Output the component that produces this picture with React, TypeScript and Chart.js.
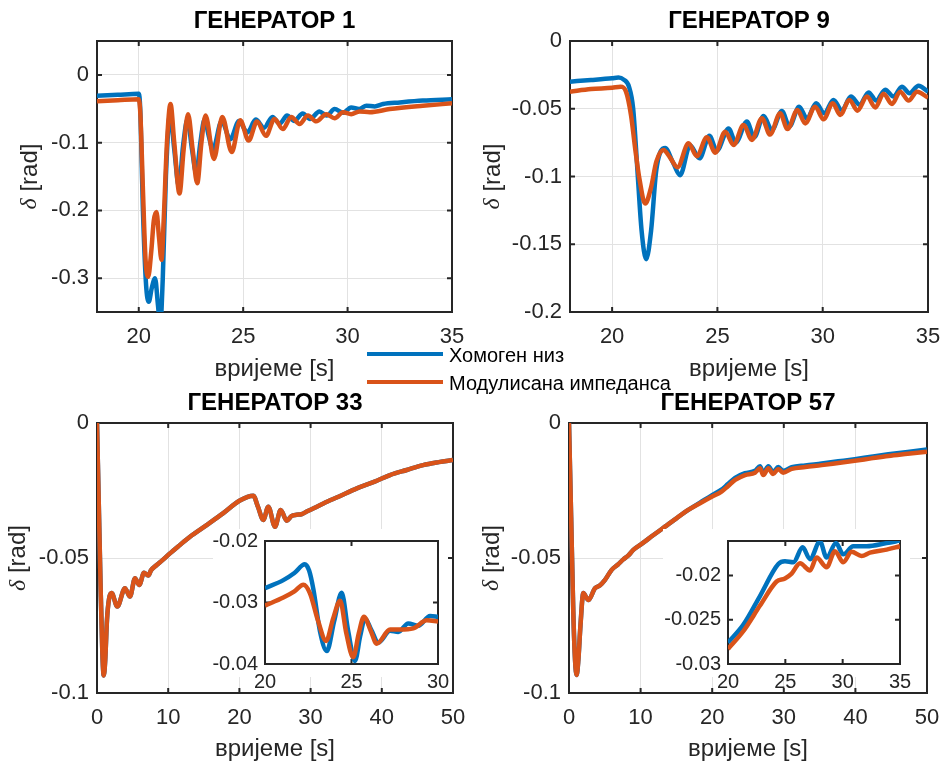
import React, { useEffect, useRef } from "react";
import { Chart, registerables } from "chart.js";

Chart.register(...registerables);

const BLUE = "#0072BD";
const ORANGE = "#D95319";
const FONT = "'Liberation Sans', Arial, Helvetica, sans-serif";
const SERIES_NAMES = ["Хомоген низ", "Модулисана импеданса"];
const X_LABEL = "вријеме [s]";

// ---------- ГЕНЕРАТОР 1 ----------
const g1HomT = [18, 19, 20, 20.07, 20.2, 20.35, 20.48, 20.62, 20.78, 20.92, 21.03, 21.15, 21.3, 21.5, 21.7, 21.92, 22.12, 22.33, 22.55, 22.75, 22.95, 23.15, 23.35, 23.55, 23.97, 24.38, 24.8, 25.2, 25.6, 26.0, 26.4, 26.75, 27.1, 27.45, 27.85, 28.2, 28.65, 29.0, 29.38, 29.78, 30.17, 30.55, 30.9, 31.3, 31.7, 32.5, 33.6, 35];
const g1HomV = [-0.031, -0.0295, -0.028, -0.05, -0.2, -0.31, -0.335, -0.315, -0.3, -0.34, -0.37, -0.3, -0.15, -0.058, -0.11, -0.165, -0.105, -0.066, -0.11, -0.145, -0.1, -0.066, -0.09, -0.11, -0.068, -0.095, -0.068, -0.085, -0.066, -0.078, -0.062, -0.072, -0.06, -0.068, -0.057, -0.065, -0.054, -0.06, -0.0505, -0.056, -0.048, -0.0505, -0.0456, -0.0465, -0.043, -0.0407, -0.038, -0.036];
const g1ModT = [18, 19, 20, 20.08, 20.2, 20.32, 20.45, 20.6, 20.72, 20.85, 20.97, 21.09, 21.2, 21.35, 21.52, 21.7, 21.95, 22.15, 22.36, 22.58, 22.8, 23.0, 23.2, 23.6, 24.0, 24.45, 24.86, 25.26, 25.66, 26.09, 26.5, 26.9, 27.3, 27.7, 28.1, 28.5, 28.98, 29.38, 29.78, 30.17, 30.58, 31.06, 32.02, 33.6, 35];
const g1ModV = [-0.039, -0.0375, -0.036, -0.06, -0.17, -0.27, -0.298, -0.26, -0.215, -0.2025, -0.24, -0.273, -0.21, -0.1, -0.043, -0.1, -0.175, -0.11, -0.058, -0.11, -0.16, -0.1, -0.06, -0.124, -0.062, -0.114, -0.067, -0.097, -0.069, -0.09, -0.065, -0.08, -0.062, -0.0725, -0.06, -0.0686, -0.058, -0.064, -0.055, -0.058, -0.054, -0.055, -0.0505, -0.0456, -0.042];
const g1XTicks = [20, 25, 30, 35];
const g1XLabels = ["20", "25", "30", "35"];
const g1YTicks = [-0.3, -0.2, -0.1, 0];
const g1YLabels = ["-0.3", "-0.2", "-0.1", "0"];

// ---------- ГЕНЕРАТОР 9 ----------
const g9HomT = [18, 19, 20, 20.3, 20.55, 20.8, 21.0, 21.2, 21.4, 21.62, 21.85, 22.1, 22.52, 22.9, 23.23, 23.7, 24.15, 24.62, 24.97, 25.53, 25.87, 26.4, 26.75, 27.19, 27.59, 28.06, 28.42, 28.88, 29.25, 29.69, 30.07, 30.51, 30.91, 31.34, 31.75, 32.18, 32.54, 32.97, 33.36, 33.76, 34.12, 34.55, 35];
const g9HomV = [-0.03, -0.0288, -0.0275, -0.027, -0.0285, -0.0337, -0.05, -0.095, -0.14, -0.161, -0.14, -0.095, -0.079, -0.09, -0.099, -0.077, -0.0866, -0.07, -0.081, -0.0645, -0.075, -0.0595, -0.071, -0.0553, -0.0657, -0.0517, -0.063, -0.0485, -0.057, -0.046, -0.0534, -0.0435, -0.051, -0.041, -0.047, -0.038, -0.044, -0.036, -0.041, -0.0337, -0.0386, -0.033, -0.0374];
const g9ModT = [18, 19, 20, 20.4, 20.65, 20.9, 21.1, 21.3, 21.57, 21.85, 22.1, 22.44, 22.75, 23.1, 23.63, 24.02, 24.5, 24.9, 25.37, 25.77, 26.24, 26.64, 27.11, 27.5, 27.98, 28.33, 28.8, 29.17, 29.64, 30.04, 30.48, 30.83, 31.27, 31.65, 32.1, 32.5, 32.89, 33.29, 33.68, 34.08, 34.48, 35];
const g9ModV = [-0.0374, -0.0355, -0.0345, -0.0337, -0.037, -0.055, -0.08, -0.102, -0.12, -0.108, -0.089, -0.0804, -0.086, -0.0932, -0.0755, -0.085, -0.071, -0.0824, -0.0669, -0.0768, -0.062, -0.073, -0.057, -0.069, -0.0534, -0.065, -0.051, -0.0608, -0.0485, -0.0578, -0.046, -0.0546, -0.0435, -0.0514, -0.041, -0.049, -0.039, -0.0465, -0.0374, -0.044, -0.0374, -0.0418];
const g9XTicks = [20, 25, 30, 35];
const g9XLabels = ["20", "25", "30", "35"];
const g9YTicks = [-0.2, -0.15, -0.1, -0.05, 0];
const g9YLabels = ["-0.2", "-0.15", "-0.1", "-0.05", "0"];

// ---------- ГЕНЕРАТОР 33 ----------
const g33T = [0, 0.25, 0.5, 0.75, 0.95, 1.15, 1.4, 1.7, 2.06, 2.85, 3.93, 4.63, 5.34, 5.94, 6.6, 7.2, 7.6, 8.38, 9.2, 10.25, 11.5, 13.06, 15.4, 17.74, 20.0, 21.95, 22.6, 23.36, 24.06, 25.0, 25.8, 26.64, 27.3, 28.04, 28.7, 29.45, 30.5, 31.8, 34.0, 36.5, 39.0, 41.15, 43.5, 45.8, 48.0, 50];
const g33HomV = [0, -0.03, -0.06, -0.085, -0.0935, -0.088, -0.073, -0.065, -0.063, -0.068, -0.0612, -0.0643, -0.0575, -0.06, -0.0555, -0.0565, -0.0545, -0.0526, -0.0508, -0.0483, -0.0455, -0.0421, -0.0378, -0.0334, -0.0288, -0.0269, -0.031, -0.0359, -0.031, -0.0384, -0.0322, -0.0362, -0.0345, -0.034, -0.0338, -0.0328, -0.0315, -0.0298, -0.0272, -0.0242, -0.0217, -0.0193, -0.0174, -0.0156, -0.0145, -0.0137];
const g33ModV = [0, -0.03, -0.06, -0.085, -0.0935, -0.088, -0.073, -0.065, -0.063, -0.068, -0.0612, -0.0643, -0.0575, -0.06, -0.0555, -0.0565, -0.0545, -0.0526, -0.0508, -0.0483, -0.0455, -0.0421, -0.0378, -0.0334, -0.0288, -0.0269, -0.031, -0.0359, -0.031, -0.0384, -0.0322, -0.0362, -0.0345, -0.034, -0.0338, -0.0328, -0.0315, -0.0298, -0.0272, -0.0242, -0.0217, -0.0193, -0.0174, -0.0156, -0.0145, -0.0137];
const g33InHomT = [20, 21.06, 21.7, 22.3, 22.55, 22.8, 23.18, 23.57, 24.0, 24.43, 24.8, 25.2, 25.5, 25.78, 26.15, 26.55, 27.23, 27.7, 28.28, 28.86, 29.54, 30];
const g33InHomV = [-0.02766, -0.02636, -0.0252, -0.0238, -0.0248, -0.0279, -0.0347, -0.0379, -0.033, -0.0284, -0.0345, -0.0395, -0.0355, -0.0326, -0.0345, -0.0365, -0.0346, -0.0348, -0.0334, -0.0338, -0.0322, -0.0323];
const g33InModT = [20, 21.06, 21.7, 22.22, 22.6, 23.08, 23.53, 23.95, 24.34, 24.7, 25.1, 25.42, 25.72, 26.1, 26.46, 27.23, 27.8, 28.57, 29.35, 30];
const g33InModV = [-0.0305, -0.0292, -0.0282, -0.0271, -0.0285, -0.0331, -0.03625, -0.0325, -0.0297, -0.035, -0.0389, -0.035, -0.0323, -0.0345, -0.0367, -0.0344, -0.0344, -0.0342, -0.0329, -0.0331];
const g33InXTicks = [20, 25, 30];
const g33InXLabels = ["20", "25", "30"];
const g33InYTicks = [-0.04, -0.03, -0.02];
const g33InYLabels = ["-0.04", "-0.03", "-0.02"];

// ---------- ГЕНЕРАТОР 57 ----------
const g57T = [0, 0.3, 0.6, 0.85, 1.07, 1.3, 1.6, 2.0, 2.7, 3.63, 4.3, 5.03, 5.96, 6.8, 7.59, 8.3, 8.98, 10.24, 11.8, 13.4, 15.0, 16.66, 18.3, 19.93, 21.3, 22.2, 23.2, 24.58, 25.98, 26.68, 27.14, 27.84, 28.5, 29.23, 29.9, 31.1, 33.0, 35.3, 37.6, 39.9, 42.2, 44.6, 47.3, 50];
const g57HomV = [0, -0.035, -0.07, -0.088, -0.0933, -0.088, -0.075, -0.063, -0.0656, -0.0612, -0.0602, -0.0581, -0.0544, -0.0525, -0.0505, -0.049, -0.047, -0.0446, -0.0415, -0.0384, -0.0353, -0.0322, -0.0295, -0.0268, -0.0247, -0.0226, -0.0203, -0.0186, -0.0177, -0.016, -0.0185, -0.016, -0.0181, -0.0163, -0.0177, -0.0164, -0.0157, -0.015, -0.0142, -0.0134, -0.0125, -0.0116, -0.0107, -0.0098];
const g57ModV = [0, -0.035, -0.07, -0.088, -0.0933, -0.088, -0.075, -0.063, -0.0656, -0.0612, -0.0602, -0.0581, -0.0544, -0.0525, -0.0505, -0.049, -0.047, -0.0446, -0.0415, -0.0384, -0.0353, -0.0322, -0.0297, -0.0273, -0.0254, -0.0234, -0.0211, -0.0193, -0.0184, -0.0168, -0.0193, -0.0168, -0.0189, -0.017, -0.0184, -0.017, -0.0163, -0.0156, -0.0148, -0.014, -0.0131, -0.0122, -0.0114, -0.0106];
const g57InHomT = [20, 21.33, 22.79, 24.39, 24.97, 25.7, 26.51, 27.15, 28.02, 28.6, 29.42, 30.05, 30.92, 32.09, 33.83, 35];
const g57InHomV = [-0.02758, -0.02558, -0.02232, -0.0187, -0.0184, -0.01851, -0.01682, -0.01815, -0.01616, -0.01797, -0.01634, -0.01761, -0.0167, -0.0167, -0.01634, -0.01605];
const g57InModT = [20, 21.33, 22.79, 24.24, 24.97, 25.55, 26.28, 27.15, 27.73, 28.6, 29.33, 30.05, 30.78, 31.65, 32.38, 33.83, 35];
const g57InModV = [-0.0283, -0.0263, -0.0234, -0.02068, -0.02033, -0.01978, -0.01862, -0.01942, -0.01797, -0.01906, -0.01725, -0.01851, -0.01732, -0.0178, -0.01742, -0.01707, -0.0167];
const g57InXTicks = [20, 25, 30, 35];
const g57InXLabels = ["20", "25", "30", "35"];
const g57InYTicks = [-0.03, -0.025, -0.02];
const g57InYLabels = ["-0.03", "-0.025", "-0.02"];

const longXTicks = [0, 10, 20, 30, 40, 50];
const longXLabels = ["0", "10", "20", "30", "40", "50"];
const longYTicks = [-0.1, -0.05, 0];
const longYLabels = ["-0.1", "-0.05", "0"];

type Rect = { x: number; y: number; w: number; h: number };
type Panel = {
  canvas: Rect;
  plot: { l: number; t: number; r: number; b: number };
  title?: string;
  titleY?: number;
  xLabelY?: number;
  yLabelX?: number;
  white?: Rect;
  grid: boolean;
  tickSize: number;
  tickPadX: number;
  tickPadY: number;
  xMin: number; xMax: number; xTicks: number[]; xLabels: string[];
  yMin: number; yMax: number; yTicks: number[]; yLabels: string[];
  series: { t: number[]; v: number[]; color: string }[];
};

const PANELS: Panel[] = [
  {
    canvas: { x: 0, y: 0, w: 478, h: 400 }, plot: { l: 97, t: 41, r: 452, b: 312 },
    title: "ГЕНЕРАТОР 1", titleY: 21.5, xLabelY: 369, yLabelX: 30, grid: true,
    tickSize: 22, tickPadX: 12, tickPadY: 8,
    xMin: 18, xMax: 35, xTicks: g1XTicks, xLabels: g1XLabels,
    yMin: -0.35, yMax: 0.05, yTicks: g1YTicks, yLabels: g1YLabels,
    series: [{ t: g1HomT, v: g1HomV, color: BLUE }, { t: g1ModT, v: g1ModV, color: ORANGE }],
  },
  {
    canvas: { x: 472, y: 0, w: 482, h: 400 }, plot: { l: 570, t: 41, r: 928, b: 312 },
    title: "ГЕНЕРАТОР 9", titleY: 21.5, xLabelY: 369, yLabelX: 493, grid: true,
    tickSize: 22, tickPadX: 12, tickPadY: 8,
    xMin: 18, xMax: 35, xTicks: g9XTicks, xLabels: g9XLabels,
    yMin: -0.2, yMax: 0, yTicks: g9YTicks, yLabels: g9YLabels,
    series: [{ t: g9HomT, v: g9HomV, color: BLUE }, { t: g9ModT, v: g9ModV, color: ORANGE }],
  },
  {
    canvas: { x: 0, y: 380, w: 480, h: 384 }, plot: { l: 97, t: 423, r: 453, b: 693 },
    title: "ГЕНЕРАТОР 33", titleY: 403, xLabelY: 749.6, yLabelX: 18.5, grid: true,
    tickSize: 22, tickPadX: 12, tickPadY: 8,
    xMin: 0, xMax: 50, xTicks: longXTicks, xLabels: longXLabels,
    yMin: -0.1, yMax: 0, yTicks: longYTicks, yLabels: longYLabels,
    series: [{ t: g33T, v: g33HomV, color: BLUE }, { t: g33T, v: g33ModV, color: ORANGE }],
  },
  {
    canvas: { x: 472, y: 380, w: 482, h: 384 }, plot: { l: 569, t: 423, r: 927, b: 693 },
    title: "ГЕНЕРАТОР 57", titleY: 403, xLabelY: 749.6, yLabelX: 492, grid: true,
    tickSize: 22, tickPadX: 12, tickPadY: 8,
    xMin: 0, xMax: 50, xTicks: longXTicks, xLabels: longXLabels,
    yMin: -0.1, yMax: 0, yTicks: longYTicks, yLabels: longYLabels,
    series: [{ t: g57T, v: g57HomV, color: BLUE }, { t: g57T, v: g57ModV, color: ORANGE }],
  },
  {
    canvas: { x: 205, y: 522, w: 255, h: 175 }, plot: { l: 265, t: 536, r: 438, b: 664 },
    white: { x: 213, y: 529, w: 235, h: 148 }, grid: false,
    tickSize: 20, tickPadX: 6, tickPadY: 7,
    xMin: 20, xMax: 30, xTicks: g33InXTicks, xLabels: g33InXLabels,
    yMin: -0.04, yMax: -0.02, yTicks: g33InYTicks, yLabels: g33InYLabels,
    series: [{ t: g33InHomT, v: g33InHomV, color: BLUE }, { t: g33InModT, v: g33InModV, color: ORANGE }],
  },
  {
    canvas: { x: 655, y: 522, w: 270, h: 175 }, plot: { l: 728, t: 536, r: 900, b: 664 },
    white: { x: 663, y: 529, w: 247, h: 148 }, grid: false,
    tickSize: 20, tickPadX: 6, tickPadY: 7,
    xMin: 20, xMax: 35, xTicks: g57InXTicks, xLabels: g57InXLabels,
    yMin: -0.03, yMax: -0.0161, yTicks: g57InYTicks, yLabels: g57InYLabels,
    series: [{ t: g57InHomT, v: g57InHomV, color: BLUE }, { t: g57InModT, v: g57InModV, color: ORANGE }],
  },
];

function buildChart(canvas: HTMLCanvasElement, p: Panel): Chart {
  const c = p.canvas;
  const yWidth = p.plot.l - c.x;
  const padR = c.x + c.w - p.plot.r;
  let padTop = 0;
  let titlePad = { top: 0, bottom: 0 };
  if (p.title) {
    const pt = (p.titleY as number) - c.y - 14.4;
    titlePad = { top: pt, bottom: p.plot.t - c.y - pt - 28.8 };
  } else {
    padTop = p.plot.t - c.y;
  }
  const xHeight = p.xLabelY !== undefined ? p.xLabelY + 14.4 - p.plot.b : c.y + c.h - p.plot.b;
  const padB = c.y + c.h - p.plot.b - xHeight;

  const whitePlugin = {
    id: "whiteBox",
    beforeDraw(chart: any) {
      if (!p.white) return;
      const ctx = chart.ctx;
      ctx.save();
      ctx.fillStyle = "#ffffff";
      ctx.fillRect(p.white.x - c.x, p.white.y - c.y, p.white.w, p.white.h);
      ctx.restore();
    },
  };

  const framePlugin = {
    id: "frameBox",
    beforeDatasetsDraw(chart: any) {
      const { ctx, chartArea: a, scales } = chart;
      const len = 5;
      ctx.save();
      ctx.strokeStyle = "#262626";
      ctx.lineWidth = 2;
      ctx.strokeRect(a.left, a.top, a.right - a.left, a.bottom - a.top);
      ctx.beginPath();
      for (const tk of scales.x.ticks) {
        const px = scales.x.getPixelForValue(tk.value);
        ctx.moveTo(px, a.bottom);
        ctx.lineTo(px, a.bottom - len);
        ctx.moveTo(px, a.top);
        ctx.lineTo(px, a.top + len);
      }
      for (const tk of scales.y.ticks) {
        const py = scales.y.getPixelForValue(tk.value);
        ctx.moveTo(a.left, py);
        ctx.lineTo(a.left + len, py);
        ctx.moveTo(a.right, py);
        ctx.lineTo(a.right - len, py);
      }
      ctx.stroke();
      ctx.restore();
    },
  };

  const yLabelPlugin = {
    id: "yLabel",
    afterDraw(chart: any) {
      if (p.yLabelX === undefined) return;
      const { ctx, chartArea: a } = chart;
      const parts = [
        { text: "δ", font: "italic 24px 'Liberation Serif', 'Times New Roman', serif" },
        { text: " [rad]", font: `24px ${FONT}` },
      ];
      ctx.save();
      let total = 0;
      const widths = parts.map((pt) => {
        ctx.font = pt.font;
        const w = ctx.measureText(pt.text).width;
        total += w;
        return w;
      });
      ctx.translate(p.yLabelX - c.x, (a.top + a.bottom) / 2);
      ctx.rotate(-Math.PI / 2);
      ctx.fillStyle = "#262626";
      ctx.textBaseline = "middle";
      ctx.textAlign = "left";
      let x = -total / 2;
      parts.forEach((pt, i) => {
        ctx.font = pt.font;
        ctx.fillText(pt.text, x, 0);
        x += widths[i];
      });
      ctx.restore();
    },
  };

  const datasets = p.series.map((s, i) => ({
    label: SERIES_NAMES[i],
    data: s.t.map((t, j) => ({ x: t, y: s.v[j] })),
    borderColor: s.color,
    backgroundColor: s.color,
    borderWidth: 4.5,
    pointRadius: 0,
    pointHoverRadius: 0,
    fill: false,
    cubicInterpolationMode: "monotone" as const,
    borderJoinStyle: "round" as const,
    clip: 0,
    order: i === 0 ? 2 : 1,
  }));

  return new Chart(canvas, {
    type: "line",
    data: { datasets },
    plugins: [whitePlugin, framePlugin, yLabelPlugin],
    options: {
      animation: false,
      responsive: false,
      devicePixelRatio: 1,
      events: [],
      layout: { padding: { left: 0, right: padR, top: padTop, bottom: padB } },
      plugins: {
        legend: { display: false },
        tooltip: { enabled: false },
        title: {
          display: !!p.title,
          text: p.title || "",
          fullSize: false,
          color: "#000000",
          font: { family: FONT, size: 24, weight: "bold", lineHeight: 1.2 },
          padding: titlePad,
        },
      },
      scales: {
        x: {
          type: "linear",
          min: p.xMin,
          max: p.xMax,
          afterBuildTicks: (scale: any) => {
            scale.ticks = p.xTicks.map((value) => ({ value }));
          },
          afterFit: (scale: any) => {
            scale.height = xHeight;
          },
          ticks: {
            autoSkip: false,
            maxRotation: 0,
            padding: p.tickPadX,
            color: "#262626",
            font: { family: FONT, size: p.tickSize, lineHeight: 1.2 },
            callback: (_v: any, i: number) => p.xLabels[i],
          },
          grid: { display: p.grid, color: "#e2e2e2", lineWidth: 1, drawTicks: false },
          border: { display: false },
          title: {
            display: p.xLabelY !== undefined,
            text: X_LABEL,
            color: "#262626",
            font: { family: FONT, size: 24, lineHeight: 1.2 },
            padding: { top: 0, bottom: 0 },
          },
        },
        y: {
          type: "linear",
          min: p.yMin,
          max: p.yMax,
          afterBuildTicks: (scale: any) => {
            scale.ticks = p.yTicks.map((value) => ({ value }));
          },
          afterFit: (scale: any) => {
            scale.width = yWidth;
          },
          ticks: {
            autoSkip: false,
            padding: p.tickPadY,
            color: "#262626",
            font: { family: FONT, size: p.tickSize, lineHeight: 1.2 },
            callback: (_v: any, i: number) => p.yLabels[i],
          },
          grid: { display: p.grid, color: "#e2e2e2", lineWidth: 1, drawTicks: false },
          border: { display: false },
        },
      },
    } as any,
  });
}

export default function App() {
  const refs = useRef<(HTMLCanvasElement | null)[]>([]);

  useEffect(() => {
    const charts = PANELS.map((p, i) => buildChart(refs.current[i] as HTMLCanvasElement, p));
    return () => charts.forEach((ch) => ch.destroy());
  }, []);

  const legendText: React.CSSProperties = {
    position: "absolute",
    left: 449,
    fontFamily: FONT,
    fontSize: 20,
    lineHeight: "20px",
    color: "#000",
    whiteSpace: "nowrap",
  };

  return (
    <div style={{ position: "absolute", left: 0, top: 0, width: 944, height: 764, background: "#ffffff", overflow: "hidden" }}>
      {PANELS.map((p, i) => (
        <canvas
          key={i}
          ref={(el) => {
            refs.current[i] = el;
          }}
          width={p.canvas.w}
          height={p.canvas.h}
          style={{ position: "absolute", left: p.canvas.x, top: p.canvas.y, width: p.canvas.w, height: p.canvas.h }}
        />
      ))}
      <div style={{ position: "absolute", left: 367, top: 352, width: 76, height: 4, background: BLUE }} />
      <div style={{ ...legendText, top: 345 }}>{SERIES_NAMES[0]}</div>
      <div style={{ position: "absolute", left: 367, top: 380, width: 76, height: 4, background: ORANGE }} />
      <div style={{ ...legendText, top: 373 }}>{SERIES_NAMES[1]}</div>
    </div>
  );
}
